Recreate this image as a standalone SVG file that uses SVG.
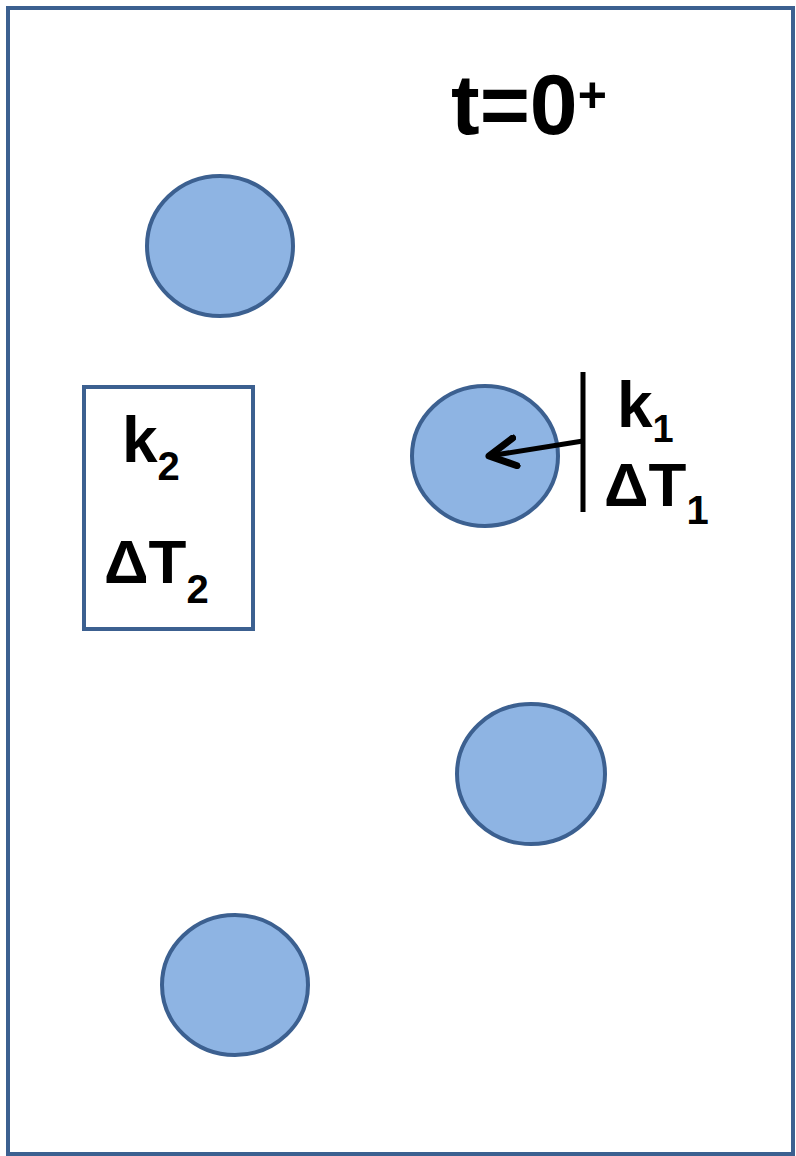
<svg xmlns="http://www.w3.org/2000/svg" width="796" height="1156" viewBox="0 0 796 1156">
<style>
.frame{fill:#fff;stroke:#3c6090;stroke-width:4}
.dot{fill:#8eb4e3;stroke:#3c6090;stroke-width:4}
.lbl{font-family:"Liberation Sans",Arial,sans-serif;font-weight:bold;fill:#000}
</style>
<defs>
<marker id="ah" viewBox="0 0 10 10" refX="8.5" refY="5" markerWidth="7" markerHeight="7" orient="auto" markerUnits="strokeWidth">
<path d="M1,1 L8.5,5 L1,9" fill="none" stroke="#000" stroke-width="2" stroke-linecap="round" stroke-linejoin="round"/>
</marker>
</defs>
<rect class="frame" x="8" y="8" width="785" height="1146"/>
<text class="lbl" x="451" y="134" font-size="86">t=0<tspan font-size="50" dy="-22">+</tspan></text>
<g id="particle1"><ellipse class="dot" cx="220" cy="246" rx="73" ry="70"/></g>
<g id="particle2"><ellipse class="dot" cx="485" cy="456" rx="73" ry="70"/></g>
<g id="particle3"><ellipse class="dot" cx="531" cy="774" rx="74" ry="70"/></g>
<g id="particle4"><ellipse class="dot" cx="235" cy="985" rx="73" ry="70"/></g>
<g id="box2">
<rect x="84" y="387" width="169" height="242" fill="#fff" stroke="#3c6090" stroke-width="4"/>
<text class="lbl" x="122" y="462" font-size="64">k<tspan font-size="40" dy="18">2</tspan></text>
<text class="lbl" x="104" y="583" font-size="62">ΔT<tspan font-size="40" dy="20">2</tspan></text>
</g>
<g id="wall1">
<line x1="583" y1="372" x2="583" y2="512" stroke="#000" stroke-width="5"/>
<text class="lbl" x="617" y="427" font-size="64">k<tspan font-size="38" dy="15">1</tspan></text>
<text class="lbl" x="604" y="506" font-size="62">ΔT<tspan font-size="40" dy="18">1</tspan></text>
</g>
<g id="connectors">
<line x1="583" y1="441" x2="489" y2="456" stroke="#000" stroke-width="5" marker-end="url(#ah)"/>
</g>
</svg>
